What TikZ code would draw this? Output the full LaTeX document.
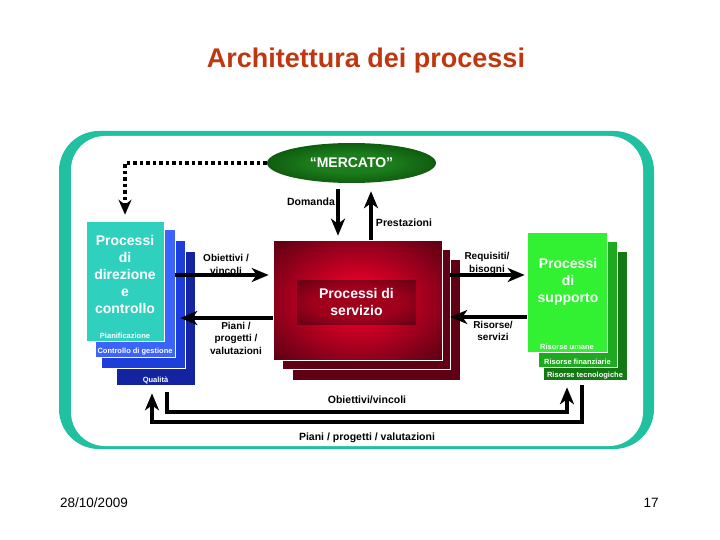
\documentclass[tikz,border=0pt]{standalone}
\usepackage{fontspec}
\setmainfont{Liberation Sans}
\usetikzlibrary{arrows.meta,shapes.geometric}
\definecolor{frameteal}{RGB}{32,192,160}
\definecolor{titlered}{RGB}{190,55,15}
\definecolor{dirteal}{RGB}{48,208,190}
\definecolor{dirlight}{RGB}{60,100,250}
\definecolor{dirblue}{RGB}{30,62,220}
\definecolor{dirnavy}{RGB}{20,36,160}
\definecolor{servred}{RGB}{232,0,40}
\definecolor{servdark}{RGB}{96,0,20}
\definecolor{servmid}{RGB}{160,0,28}
\definecolor{mercgreen}{RGB}{28,125,28}
\definecolor{mercdark}{RGB}{0,55,0}
\definecolor{supplime}{RGB}{50,240,50}
\definecolor{suppmid}{RGB}{30,170,30}
\definecolor{suppdark}{RGB}{20,120,20}
\pgfdeclareradialshading{servshade}{\pgfpoint{0bp}{0bp}}{color(0bp)=(servred); color(6bp)=(servred); color(34bp)=(servdark); color(50bp)=(servdark)}
\pgfdeclareradialshading{labshade}{\pgfpoint{0bp}{0bp}}{color(0bp)=(servmid); color(18bp)=(servmid); color(40bp)=(servdark!90!black); color(50bp)=(servdark!90!black)}
\pgfdeclareradialshading{mercshade}{\pgfpoint{0bp}{0bp}}{color(0bp)=(mercgreen); color(12bp)=(mercgreen); color(40bp)=(mercdark); color(50bp)=(mercdark)}
\begin{document}
\begin{tikzpicture}[x=1pt,y=-1pt,
		every node/.style = {inner sep=0pt},
		layer/.style = {shape=rectangle, draw=white, line width=0.6pt},
		maintext/.style = {text=white, align=center, font=\fontsize{14}{17}\selectfont\bfseries},
		laytext/.style = {text=white, font=\fontsize{7.5}{9}\selectfont\bfseries},
		note/.style = {align=center, font=\fontsize{10}{12.5}\selectfont\bfseries},
		flownote/.style = {font=\fontsize{10.5}{12}\selectfont\bfseries},
		flow/.style = {line width=4.5pt, -{Stealth[length=17pt,width=14pt,inset=5pt]}},
		backflow/.style = {line width=4pt, -{Stealth[length=17pt,width=14pt,inset=5pt]}}]
		\useasboundingbox (0,0) rectangle (720,540);
		\node[text=titlered, font=\fontsize{27}{30}\selectfont\bfseries] (title) at (366,61) {Architettura dei processi};
		\node[font=\fontsize{13.5}{15}\selectfont] (date) at (94,503) {28/10/2009};
		\node[font=\fontsize{13.5}{15}\selectfont] (page) at (651,503) {17};
		\fill[frameteal, rounded corners=40pt] (59,131) rectangle (654,449);
		\fill[white, rounded corners=34pt] (71,136) rectangle (643,446);
		\node[ellipse, shading=mercshade, minimum width=169pt, minimum height=40pt, maintext] (merc) at (351.5,163) {“MERCATO”};
		\node[layer, fill=dirnavy, minimum width=79pt, minimum height=134pt] (dirD) at (155.5,318) {};
		\node[layer, fill=dirblue, minimum width=84pt, minimum height=128pt] (dirC) at (143,304) {};
		\node[layer, fill=dirlight, minimum width=80pt, minimum height=128pt] (dirB) at (135,293) {};
		\node[layer, fill=dirteal, minimum width=78pt, minimum height=120pt] (dir) at (125,281) {};
		\node[maintext] (dirtxt) at (125,274) {Processi\\di\\direzione\\e\\controllo};
		\node[laytext] (plan) at ([yshift=5pt]dir.south) {Pianificazione};
		\node[laytext] (cdg) at ([yshift=6pt]dirB.south) {Controllo di gestione};
		\node[laytext] (qual) at ([yshift=4.5pt]dirD.south) {Qualità};
		\node[layer, fill=servdark, minimum width=168pt, minimum height=121pt] (servC) at (376,319.5) {};
		\node[layer, fill=servdark, minimum width=168pt, minimum height=120pt] (servB) at (366,309) {};
		\node[layer, shading=servshade, minimum width=169pt, minimum height=120pt] (serv) at (357.5,300) {};
		\node[shading=labshade, minimum width=119pt, minimum height=44pt, maintext] (servtxt) at (356.5,302) {Processi di\\servizio};
		\node[layer, fill=suppdark, minimum width=84pt, minimum height=129pt] (suppC) at (585,315.5) {};
		\node[layer, fill=suppmid, minimum width=79pt, minimum height=126pt] (suppB) at (577.5,304) {};
		\node[layer, fill=supplime, minimum width=80pt, minimum height=120pt] (supp) at (567,292) {};
		\node[maintext] (supptxt) at (568,282) {Processi\\di\\supporto};
		\node[laytext] (hum) at ([yshift=5pt]supp.south) {Risorse umane};
		\node[laytext] (fin) at ([yshift=5pt]suppB.south) {Risorse finanziarie};
		\node[laytext] (tec) at ([yshift=4.5pt]suppC.south) {Risorse tecnologiche};
		\draw[line width=3.5pt, dash pattern=on 3.5pt off 3pt, shorten >=6pt, -{Stealth[length=15pt,width=13pt,inset=5pt]}] (merc.west) -| (dir.north);
		\draw[flow, shorten <=6pt, shorten >=4pt] ([xshift=-13.5pt]merc.south) -- ([xshift=-19.5pt]serv.north);
		\draw[flow, shorten >=8pt] ([xshift=13.5pt]serv.north) -- ([xshift=19.5pt]merc.south);
		\node[flownote] (dom) at (311,202) {Domanda};
		\node[flownote] (pre) at (404,223) {Prestazioni};
		\draw[flow, shorten >=4pt] ([yshift=18pt]dirB.east) -- ([yshift=25pt]serv.west);
		\draw[flow, shorten >=5pt] ([yshift=-18pt]serv.west) -- ([yshift=-25pt]dirB.east);
		\draw[flow, shorten >=2pt] ([yshift=34pt]servB.east) -- ([yshift=17pt]supp.west);
		\draw[flow] ([yshift=-25pt]supp.west) -- ([yshift=-8pt]servB.east);
		\node[note] (obj) at (226,264.5) {Obiettivi /\\vincoli};
		\node[note] (pia) at (236,338) {Piani /\\progetti /\\valutazioni};
		\node[note] (req) at (487,263.5) {Requisiti/\\bisogni};
		\node[note] (ris) at (493,331) {Risorse/\\servizi};
		\draw[backflow, shorten >=7pt] ([xshift=11.5pt,yshift=-7pt]dirD.south) -- ++(0,20) -| node[pos=0.25, above=7pt, flownote] (objb) {Obiettivi/vincoli} ([xshift=-18pt]suppC.south);
		\draw[backflow, shorten >=8pt] ([xshift=-3pt,yshift=-5pt]suppC.south) -- ++(0,37) -| node[pos=0.25, below=9pt, flownote] (piab) {Piani / progetti / valutazioni} ([xshift=-3.5pt]dirD.south);
\end{tikzpicture}
\end{document}
